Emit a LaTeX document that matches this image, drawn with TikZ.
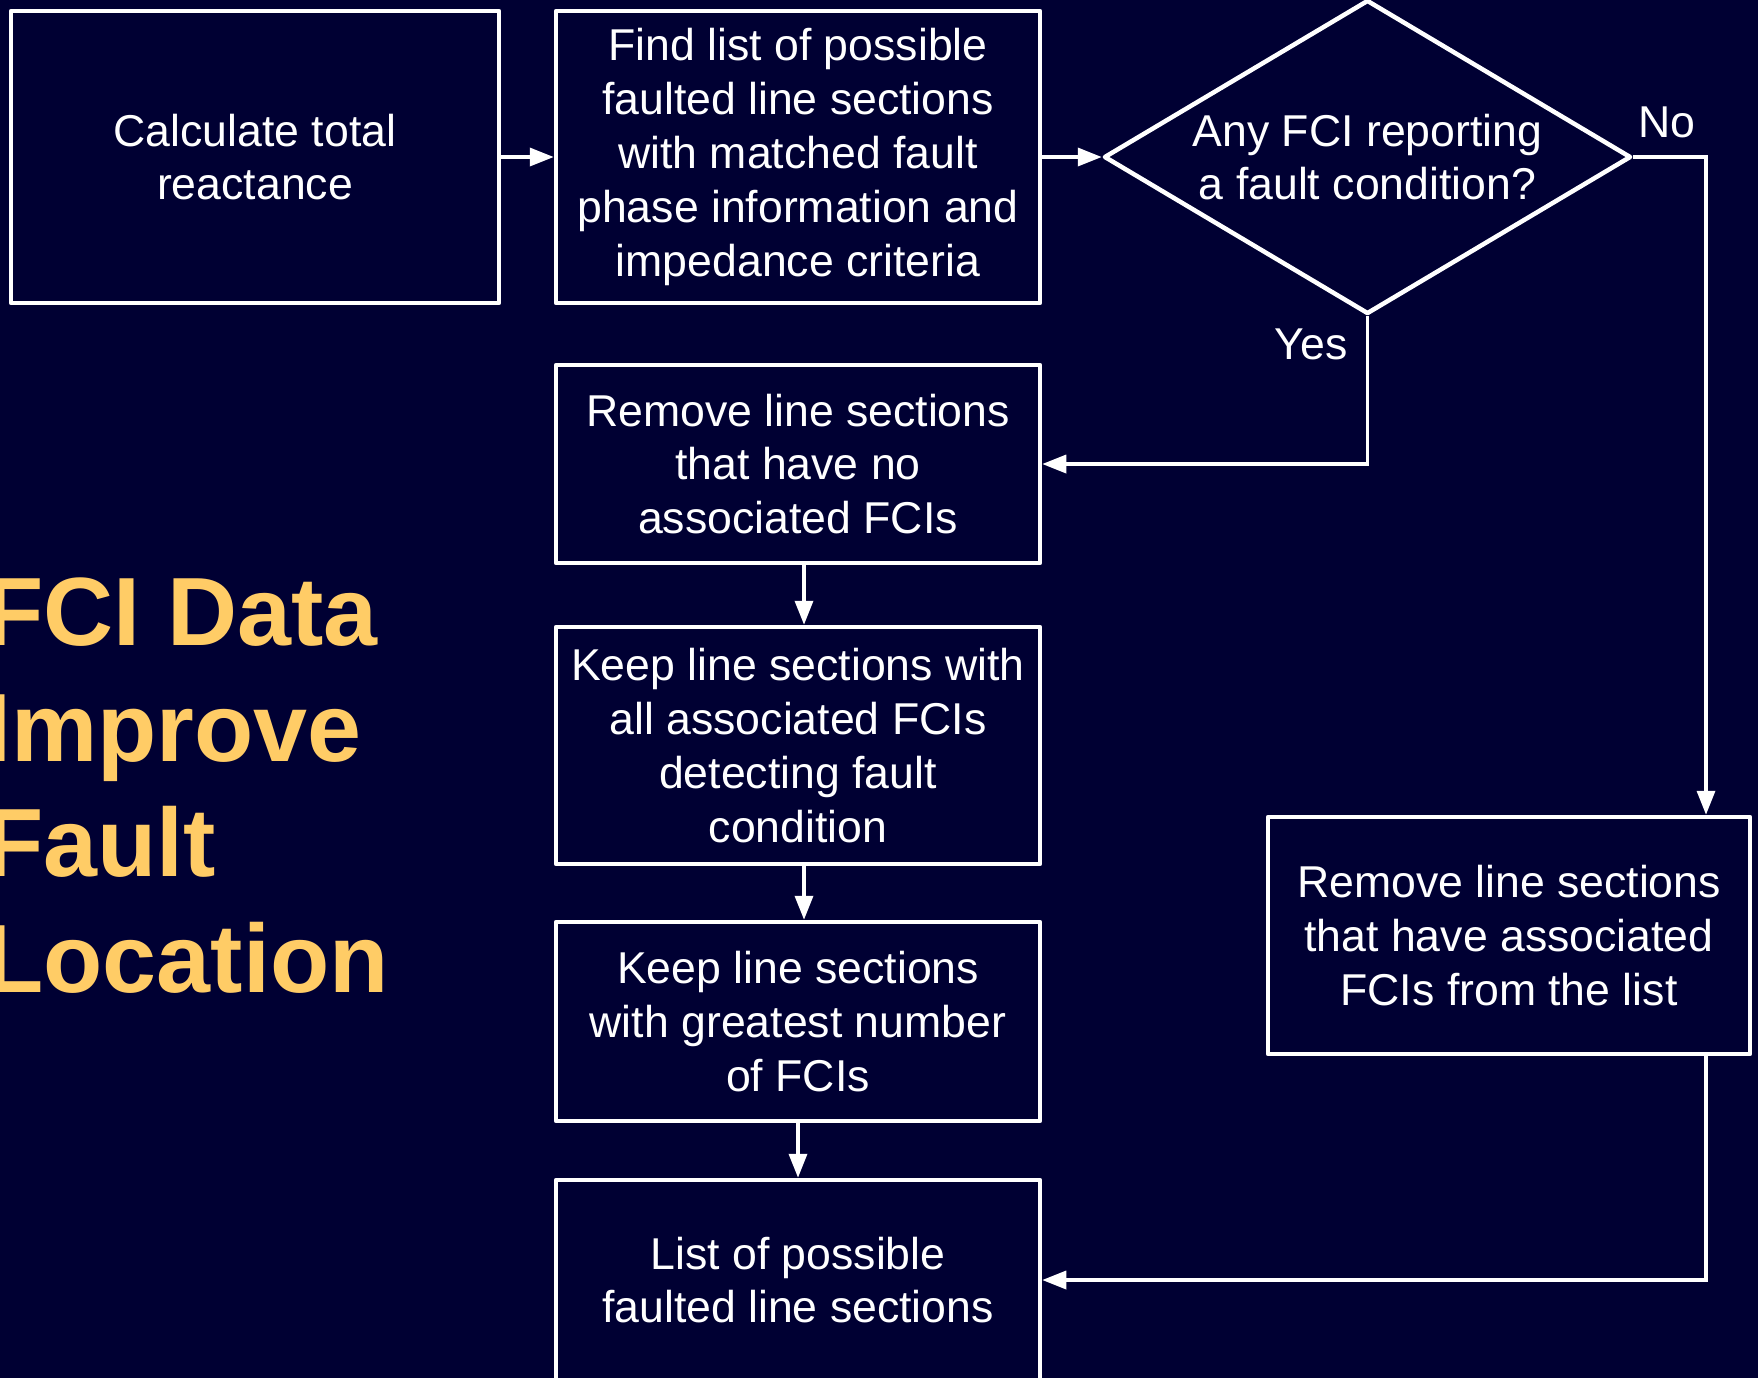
\documentclass[tikz,border=0pt]{standalone}
\usepackage{fontspec}
\setmainfont{Liberation Sans}
\usetikzlibrary{arrows.meta,shapes.geometric,calc}

\definecolor{bgnavy}{HTML}{000033}
\definecolor{titlegold}{HTML}{FFCC66}

\tikzset{
  stepbox/.style={draw=white, line width=2.25pt, line join=round, fill=bgnavy,
    text=white, align=center, inner sep=0pt,
    font=\fontsize{22.3pt}{26.9pt}\selectfont},
  decision/.style={stepbox, diamond, shape aspect=1.68},
  flowarrow/.style={draw=white, line width=1.75pt,
    -{Triangle[length=12pt,width=9pt]}},
  branchlabel/.style={text=white, anchor=base, inner sep=0pt,
    font=\fontsize{22.3pt}{26.9pt}\selectfont},
  headline/.style={text=titlegold, align=left, inner sep=0pt, anchor=base west,
    font=\bfseries\fontsize{48.5pt}{57.7pt}\selectfont}
}

\begin{document}
\begin{tikzpicture}[x=0.5pt,y=-0.5pt]
  % page background
  \fill[bgnavy] (0,0) rectangle (1758,1378);
  \useasboundingbox (0,0) rectangle (1758,1378);

  % title on the left (base anchor sits on the last line)
  \node[headline] (title) at (-16,992) {FCI Data\\Improve\\Fault\\Location};

  % process steps
  \node[stepbox, minimum width=244pt, minimum height=146pt] (calc) at (255,157)
    {Calculate total\\reactance};
  \node[stepbox, minimum width=242pt, minimum height=146pt] (find) at (798,157)
    {Find list of possible\\faulted line sections\\with matched fault\\phase information and\\impedance criteria};
  \node[decision, minimum width=263.5pt, minimum height=157pt] (query) at (1367.5,157)
    {Any FCI reporting\\a fault condition?};
  \node[stepbox, minimum width=242pt, minimum height=99pt] (dropnone) at (798,464)
    {Remove line sections\\that have no\\associated FCIs};
  \node[stepbox, minimum width=242pt, minimum height=118.5pt] (keepall) at (798,745.5)
    {Keep line sections with\\all associated FCIs\\detecting fault\\condition};
  \node[stepbox, minimum width=242pt, minimum height=99.5pt] (keepmost) at (798,1021.5)
    {Keep line sections\\with greatest number\\of FCIs};
  \node[stepbox, minimum width=242pt, minimum height=100pt] (result) at (798,1280)
    {List of possible\\faulted line sections};
  \node[stepbox, minimum width=241pt, minimum height=118.5pt] (dropassoc) at (1509,935.5)
    {Remove line sections\\that have associated\\FCIs from the list};

  % branch labels
  \node[branchlabel] (nolabel) at (1667,137) {No};
  \node[branchlabel] (yeslabel) at (1311,359) {Yes};

  % turning point of the "No" branch
  \coordinate (noturn) at (1706,157);

  % connectors
  \draw[flowarrow] (calc.east) -- (find.west);
  \draw[flowarrow] (find.east) -- (query.west);
  \draw[flowarrow] (query.south) |- (dropnone.east);
  \draw[flowarrow] (query.east) -- (noturn) -- (noturn |- dropassoc.north);
  \draw[flowarrow] ([xshift=3pt]dropnone.south) -- ([xshift=3pt]keepall.north);
  \draw[flowarrow] ([xshift=3pt]keepall.south) -- ([xshift=3pt]keepmost.north);
  \draw[flowarrow] (keepmost.south) -- (result.north);
  \draw[flowarrow] (noturn |- dropassoc.south) |- (result.east);
\end{tikzpicture}
\end{document}
